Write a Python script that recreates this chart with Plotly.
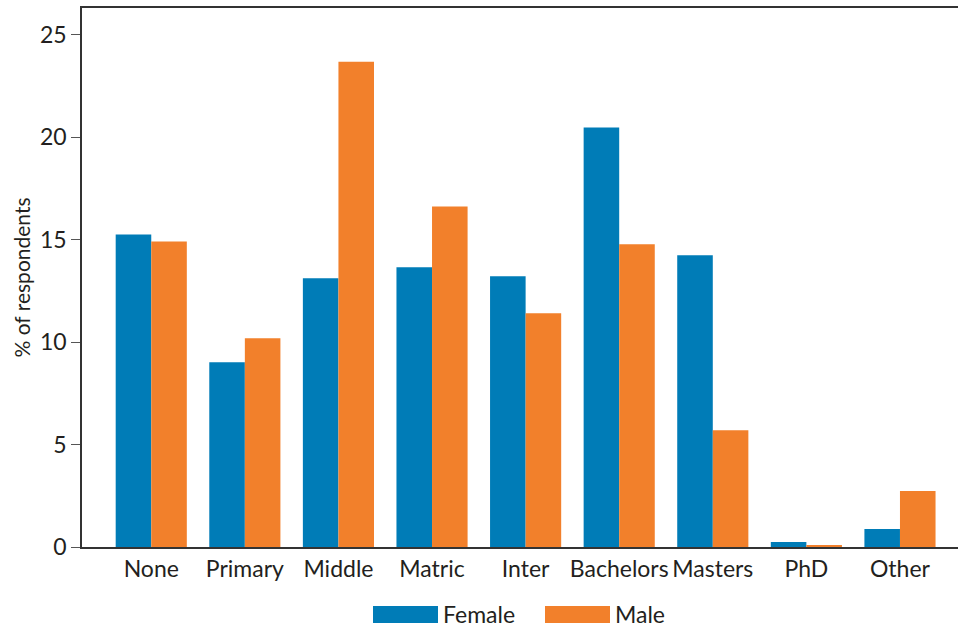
import plotly.graph_objects as go

categories = ["None", "Primary", "Middle", "Matric", "Inter", "Bachelors", "Masters", "PhD", "Other"]
female = [15.25, 9.02, 13.11, 13.65, 13.21, 20.47, 14.23, 0.24, 0.88]
male = [14.91, 10.19, 23.68, 16.62, 11.40, 14.77, 5.70, 0.10, 2.73]
y_ticks = [0, 5, 10, 15, 20, 25]

BLUE = "#007cb7"
ORANGE = "#f2802b"
FONT = "Lato, 'Open Sans', sans-serif"
TXT = "#231f20"

fig = go.Figure()
fig.add_trace(go.Bar(x=categories, y=female, name="Female", marker_color=BLUE, marker_line_width=0))
fig.add_trace(go.Bar(x=categories, y=male, name="Male", marker_color=ORANGE, marker_line_width=0))

fig.update_layout(
    width=958, height=627,
    margin=dict(l=82, r=0, t=8, b=80, autoexpand=False),
    barmode="group", bargap=0.24, bargroupgap=0,
    plot_bgcolor="white", paper_bgcolor="white",
    font=dict(family=FONT, size=23, color=TXT),
    showlegend=False,
    xaxis=dict(
        range=[-0.74, 8.62], showline=True, linecolor="#333333", linewidth=2, mirror=True,
        ticks="", showgrid=False, tickfont=dict(size=23, color=TXT), automargin=False,
        ticklabelstandoff=0,
    ),
    yaxis=dict(
        range=[0, 26.3], tickvals=y_ticks, showline=True, linecolor="#333333", linewidth=1.5,
        mirror=False, automargin=False,
        ticks="outside", ticklen=9, tickcolor="#555555", showgrid=False, zeroline=False,
        tickfont=dict(size=23, color=TXT),
        title=dict(text="% of respondents", font=dict(size=21, color=TXT), standoff=4),
    ),
)

# legend (manual, wide swatches)
legend_items = [("Female", BLUE, 373), ("Male", ORANGE, 545)]
for name, col, px in legend_items:
    x0 = (px - 82) / 876
    x1 = (px + 65 - 82) / 876
    fig.add_shape(type="rect", xref="paper", yref="paper", x0=x0, x1=x1,
                  y0=(547 - 623) / 539, y1=(547 - 606) / 539,
                  fillcolor=col, line_width=0)
    fig.add_annotation(xref="paper", yref="paper", x=(px + 68 - 82) / 876, y=(547 - 614) / 539,
                       text=name, showarrow=False, xanchor="left", yanchor="middle",
                       font=dict(size=23, color=TXT))

fig.write_html("out.html", config={"displayModeBar": False},
               post_script="document.body.style.margin='0';document.body.style.overflow='hidden';")
